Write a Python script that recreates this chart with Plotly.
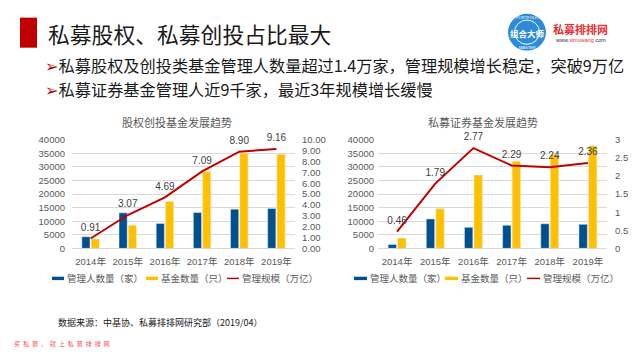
import plotly.graph_objects as go

# ---------------- data ----------------
years = ["2014年", "2015年", "2016年", "2017年", "2018年", "2019年"]

pe_managers = [4300, 13100, 9200, 13200, 14450, 14700]
pe_funds = [3450, 8500, 17300, 28300, 35000, 34650]
pe_scale = [0.91, 3.07, 4.69, 7.09, 8.90, 9.16]

sec_managers = [1400, 10850, 7750, 8500, 9050, 8850]
sec_funds = [3800, 14550, 27000, 32100, 34500, 37750]
sec_scale = [0.46, 1.79, 2.77, 2.29, 2.24, 2.36]

series_names = ["管理人数量（家）", "基金数量（只）", "管理规模（万亿）"]

# ---------------- styles ----------------
W, H = 640, 360
BLUE = "#00508F"
YELLOW = "#FFC000"
RED = "#C00000"
GRID = "#D9D9D9"
TICK = "#595959"
FONT = "Liberation Sans, Noto Sans CJK SC, sans-serif"
CJK = "Noto Sans CJK SC, DejaVu Sans, sans-serif"


def px(x):
    return x / W


def py(y):
    return 1 - y / H


y_dom = [py(250), py(138)]
invisible_marker = dict(size=7, color="rgba(0,0,0,0)")

fig = go.Figure()

# left chart
fig.add_trace(go.Bar(x=years, y=pe_managers, marker_color=BLUE, xaxis="x", yaxis="y", name=series_names[0]))
fig.add_trace(go.Bar(x=years, y=pe_funds, marker_color=YELLOW, xaxis="x", yaxis="y", name=series_names[1]))
fig.add_trace(go.Scatter(x=years, y=pe_scale, mode="lines+markers+text", text=[f"{v:.2f}" for v in pe_scale],
                         textposition="top center", textfont=dict(size=10, color="#404040", family=FONT),
                         marker=invisible_marker, cliponaxis=False,
                         line=dict(color=RED, width=2), xaxis="x", yaxis="y2", name=series_names[2]))
# right chart
fig.add_trace(go.Bar(x=years, y=sec_managers, marker_color=BLUE, xaxis="x2", yaxis="y3", name=series_names[0]))
fig.add_trace(go.Bar(x=years, y=sec_funds, marker_color=YELLOW, xaxis="x2", yaxis="y3", name=series_names[1]))
fig.add_trace(go.Scatter(x=years, y=sec_scale, mode="lines+markers+text", text=[f"{v:.2f}" for v in sec_scale],
                         textposition="top center", textfont=dict(size=10, color="#404040", family=FONT),
                         marker=invisible_marker, cliponaxis=False,
                         line=dict(color=RED, width=2), xaxis="x2", yaxis="y4", name=series_names[2]))

tickfont = dict(size=9.5, color=TICK, family=FONT)

xcommon = dict(showgrid=False, showline=False, zeroline=False, ticks="", tickfont=tickfont, fixedrange=True,
               ticklabelstandoff=6)
ycommon = dict(showgrid=True, gridcolor=GRID, gridwidth=1, showline=False, zeroline=True,
               zerolinecolor=GRID, zerolinewidth=1, ticks="", tickfont=tickfont, range=[0, 40000],
               dtick=5000, tickformat="d", domain=y_dom)

annotations = []
shapes = []


def text(t, x, y, size, color, family=CJK, xanchor="left", yanchor="middle"):
    annotations.append(dict(text=t, x=px(x), y=py(y), xref="paper", yref="paper", xanchor=xanchor,
                            yanchor=yanchor, showarrow=False, font=dict(size=size, color=color, family=family)))


# header red block
shapes.append(dict(type="rect", xref="paper", yref="paper", x0=px(20), x1=px(37), y0=py(43), y1=py(12),
                   fillcolor=RED, line=dict(width=0)))
text("私募股权、私募创投占比最大", 46, 28, 21.8, "#1a1a1a")

# bullets
bullets = ["私募股权及创投类基金管理人数量超过1.4万家，管理规模增长稳定，突破9万亿",
           "私募证券基金管理人近9千家，最近3年规模增长缓慢"]
for i, b in enumerate(bullets):
    text(f"<span style='color:{RED}'>➢</span>" + b, 43, 61 + 25 * i, 16.2, "#1a1a1a")

# logo
cx, cy, r = 527, 27, 19
shapes.append(dict(type="circle", xref="paper", yref="paper", x0=px(cx - r), x1=px(cx + r), y0=py(cy + r),
                   y1=py(cy - r), fillcolor="#2E8BDA", line=dict(width=0)))
r2 = 12.5
shapes.append(dict(type="circle", xref="paper", yref="paper", x0=px(cx - r2), x1=px(cx + r2), y0=py(cy + r2),
                   y1=py(cy - r2), fillcolor="#2E8BDA", line=dict(width=1, color="white")))
text("<b>组合大师</b>", cx, cy + 1, 8.5, "white", xanchor="center")
text("PORTFOLIO", cx, cy - 15.5, 4, "white", family=FONT, xanchor="center")
text("MASTER", cx, cy + 16, 4, "white", family=FONT, xanchor="center")
text("<b>私募排排网</b>", 551, 24, 11, "#E8303A")
text("www.<span style='color:#E8303A'>simuwang</span>.com", 553, 35, 5.5, "#333333", family=FONT)

# chart titles
text("股权创投基金发展趋势", 177, 120, 11, TICK, xanchor="center")
text("私募证券基金发展趋势", 483, 120, 11, TICK, xanchor="center")


# legends
def legend(x_positions, y):
    colors = [BLUE, YELLOW, RED]
    for (x0, x1), name, c, k in zip(x_positions, series_names, colors, range(3)):
        th = 3.5 if k < 2 else 1.5
        shapes.append(dict(type="rect", xref="paper", yref="paper", x0=px(x0), x1=px(x1),
                           y0=py(y + th / 2), y1=py(y - th / 2), fillcolor=c, line=dict(width=0)))
        text(name, x1 + 0.5, y, 9.5, TICK)


legend([(52, 64), (146, 158), (227, 239)], 281)
legend([(354, 367), (445, 458), (527, 540)], 281)

# footnote
text("数据来源：中基协、私募排排网研究部（2019/04）", 56, 326, 9, "#222222")
text("  ".join("买私募，就上私募排排网"), 12, 348, 6.2, "#FF4D4D")

fig.update_layout(
    width=W, height=H, autosize=False,
    margin=dict(l=0, r=0, t=0, b=0),
    paper_bgcolor="white", plot_bgcolor="white",
    showlegend=False,
    barmode="group", bargap=0.5, bargroupgap=0.12,
    xaxis=dict(domain=[px(72), px(295)], anchor="y", **xcommon),
    yaxis=dict(anchor="x", ticklabelstandoff=6, **ycommon),
    yaxis2=dict(overlaying="y", side="right", anchor="x", range=[0, 10], dtick=1, tickformat=".2f",
                showgrid=False, zeroline=False, showline=False, ticks="", tickfont=tickfont,
                ticklabelstandoff=6),
    xaxis2=dict(domain=[px(378), px(607)], anchor="y3", **xcommon),
    yaxis3=dict(anchor="x2", ticklabelstandoff=3, **ycommon),
    yaxis4=dict(overlaying="y3", side="right", anchor="x2", range=[0, 3], dtick=0.5,
                showgrid=False, zeroline=False, showline=False, ticks="", tickfont=tickfont,
                ticklabelstandoff=7),
    annotations=annotations,
    shapes=shapes,
)

fig.write_html("out.html", config={"displayModeBar": False},
               post_script="document.body.style.margin='0';document.body.style.overflow='hidden';")
